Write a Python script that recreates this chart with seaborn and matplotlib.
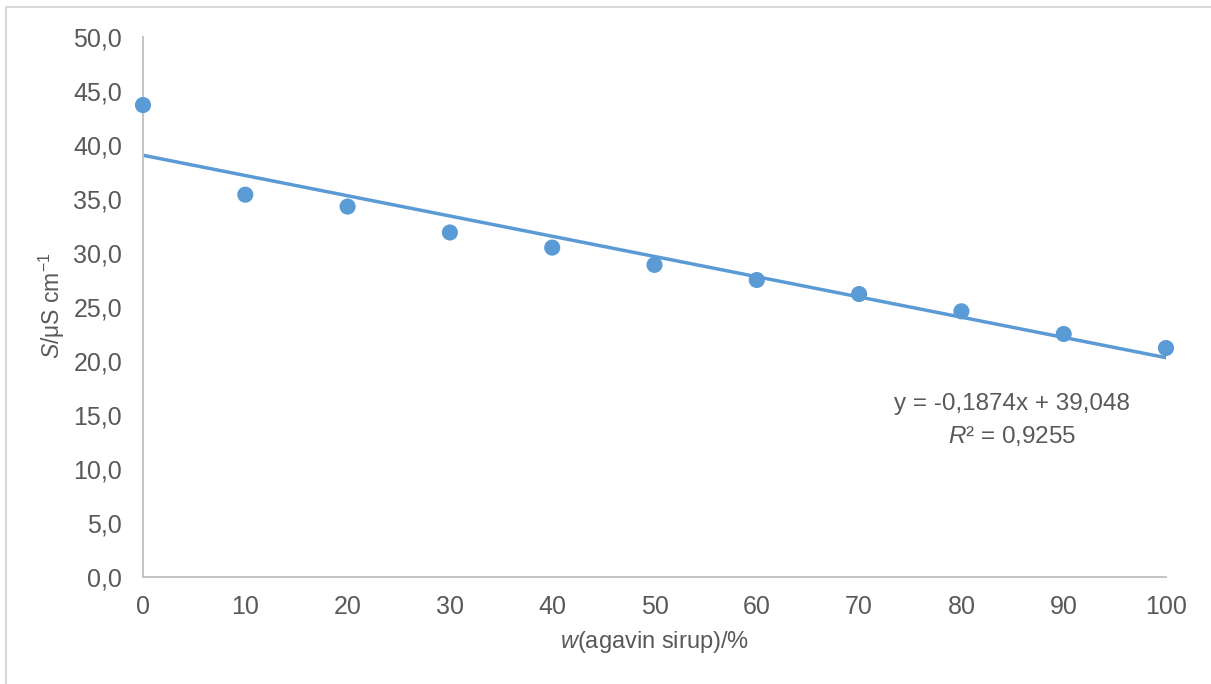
import matplotlib
matplotlib.use("Agg")
import matplotlib.pyplot as plt
import seaborn as sns
import pandas as pd
import numpy as np
from matplotlib.lines import Line2D

# Data
w_agave = [0, 10, 20, 30, 40, 50, 60, 70, 80, 90, 100]
conductivity = [43.7, 35.4, 34.3, 31.9, 30.5, 28.9, 27.5, 26.2, 24.6, 22.5, 21.2]
slope = -0.1874
intercept = 39.048
r_squared = 0.9255
x_ticks = [0, 10, 20, 30, 40, 50, 60, 70, 80, 90, 100]
y_ticks = [0, 5, 10, 15, 20, 25, 30, 35, 40, 45, 50]

sns.set_theme(style="white")
plt.rcParams['font.family'] = ['Liberation Sans', 'DejaVu Sans']
plt.rcParams['mathtext.fontset'] = 'custom'
plt.rcParams['mathtext.rm'] = 'Liberation Sans'
plt.rcParams['mathtext.it'] = 'Liberation Sans:italic'

TXT = '#595959'
BLUE = '#5b9bd5'
SPINE = '#bfbfbf'

df = pd.DataFrame({'w': w_agave, 'S': conductivity})
trend = pd.DataFrame({'w': [min(w_agave), max(w_agave)]})
trend['S'] = slope * trend['w'] + intercept

fig = plt.figure(figsize=(12.11, 6.84), dpi=100)
ax = fig.add_axes([143/1211, 1 - 577/684, (1166 - 143)/1211, (577 - 37)/684])

sns.lineplot(data=trend, x='w', y='S', ax=ax, color=BLUE, linewidth=2.5, zorder=2)
sns.scatterplot(data=df, x='w', y='S', ax=ax, color=BLUE, s=135, edgecolor='none', zorder=3, clip_on=False)

ax.set_xlim(0, 100)
ax.set_ylim(0, 50)
ax.set_xticks(x_ticks)
ax.set_yticks(y_ticks)
ax.set_xticklabels([str(t) for t in x_ticks])
ax.set_yticklabels([f"{t:.1f}".replace('.', ',') for t in y_ticks])
ax.tick_params(axis='both', colors=TXT, labelsize=18, length=0)
ax.tick_params(axis='y', pad=15)
ax.tick_params(axis='x', pad=13)

for s in ['top', 'right']:
    ax.spines[s].set_visible(False)
for s in ['left', 'bottom']:
    ax.spines[s].set_color(SPINE)
    ax.spines[s].set_linewidth(1.3)

ax.set_xlabel(r"$\it{w}$(agavin sirup)/%", fontsize=17, color=TXT)
ax.set_ylabel(r"$\it{S}$/μS cm$^{-1}$", fontsize=16.5, color=TXT)
ax.xaxis.set_label_coords((654 - 143) / 1023, -(629 - 577) / 540)
ax.yaxis.set_label_coords(-(143 - 67) / 1023, (577 - 306) / 540)

eq = f"y = {slope:.4f}x + {intercept:.3f}".replace('.', ',')
r2 = r"$\it{R}$² = " + f"{r_squared:.4f}".replace('.', ',')
fig.text(1012/1211, 1 - 404/684, eq, ha='center', va='center', fontsize=17.5, color=TXT)
fig.text(1012/1211, 1 - 436/684, r2, ha='center', va='center', fontsize=17.5, color=TXT)

# chart border
fig.add_artist(Line2D([6/1211, 6/1211], [0, 1 - 7/684], transform=fig.transFigure, color='#d9d9d9', lw=1.5))
fig.add_artist(Line2D([6/1211, 1], [1 - 7/684, 1 - 7/684], transform=fig.transFigure, color='#d9d9d9', lw=1.5))

fig.savefig('out.png', dpi=100)
